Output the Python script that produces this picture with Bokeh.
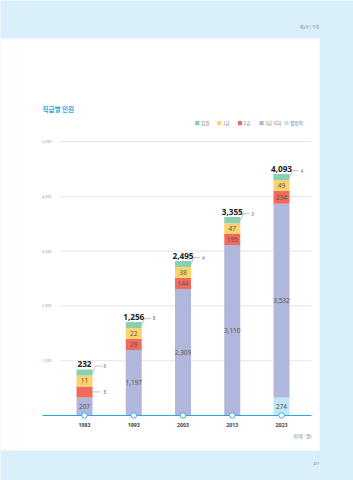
from bokeh.plotting import figure
from bokeh.models import Range1d
from bokeh.core.properties import value
from bokeh.embed import file_html
from bokeh.resources import INLINE

# ---------------- data ----------------
years = ["1983", "1993", "2003", "2013", "2023"]
series_names = ["임원", "1급", "2급", "3급 이하", "별정직"]
executives = [6, 8, 4, 3, 4]            # 임원
grade1 = [11, 22, 38, 47, 49]           # 1급
grade2 = [8, 29, 144, 195, 234]         # 2급
grade3 = [207, 1197, 2309, 3110, 3532]  # 3급 이하
special = [0, 0, 0, 0, 274]             # 별정직
totals = [232, 1256, 2495, 3355, 4093]
y_ticks = [1000, 2000, 3000, 4000, 5000]
y_tick_labels = ["1,000", "2,000", "3,000", "4,000", "5,000"]

# ---------------- styling / geometry ----------------
PAGE_BG = "#d9f0fa"
BLUE = "#29a8e0"
COLORS = {"임원": "#86d1b1", "1급": "#fdd36e", "2급": "#f06b5b",
          "3급 이하": "#b1b6dc", "별정직": "#bfe6f7"}
# minimum visible segment height (in data units) so small groups stay legible
MIN_H = {"임원": 110, "1급": 200, "2급": 200, "3급 이하": 330, "별정직": 330}

PX_PER_UNIT = 0.0548
BASE_PX = 415.0
X0_PX = 84.0
STEP_PX = 49.25
W = 16.0 / STEP_PX

KR = value("Noto Sans CJK KR")
NUM = value("Noto Sans")

p = figure(width=353, height=480, output_backend="svg", toolbar_location=None,
           x_range=Range1d(-X0_PX / STEP_PX, (353 - X0_PX) / STEP_PX),
           y_range=Range1d(-(480 - BASE_PX) / PX_PER_UNIT, BASE_PX / PX_PER_UNIT),
           x_axis_location=None, y_axis_location=None, min_border=0,
           outline_line_color=None, background_fill_color=PAGE_BG,
           border_fill_color=PAGE_BG)
p.grid.visible = False
p.extra_x_ranges = {"px": Range1d(0, 353)}
p.extra_y_ranges = {"px": Range1d(480, 0)}

def dx(px):
    return px / STEP_PX

def dy(px):
    return px / PX_PER_UNIT

# page panel
p.quad(left=[0], right=[319], top=[38], bottom=[450], fill_color="white",
       line_color=None, x_range_name="px", y_range_name="px")
p.text(x=[319], y=[26], text=["제2부 | 부록"], text_font=KR, text_font_size="4px",
       text_color="#888888", text_align="right", text_baseline="middle",
       x_range_name="px", y_range_name="px")
p.text(x=[316], y=[463], text=["451"], text_font=NUM, text_font_size="3.5px",
       text_color="#888888", text_align="center", text_baseline="middle",
       x_range_name="px", y_range_name="px")

# title
p.text(x=[42], y=[108], text=["직급별 인원"], text_font=KR, text_font_size="6.5px",
       text_font_style="bold", text_color="#27a9e1", text_align="left",
       text_baseline="middle", x_range_name="px", y_range_name="px")

# legend
leg_sq = [194.7, 216.7, 237.3, 259.0, 284.0]
p.quad(left=leg_sq, right=[v + 4.2 for v in leg_sq], top=[120.5] * 5, bottom=[124.7] * 5,
       fill_color=[COLORS[n] for n in series_names], line_color=None,
       x_range_name="px", y_range_name="px")
p.text(x=[v + 5.8 for v in leg_sq], y=[122.6] * 5, text=series_names, text_font=KR,
       text_font_size="4.6px", text_color="#777777", text_align="left",
       text_baseline="middle", x_range_name="px", y_range_name="px")

# gridlines and y tick labels
p.segment(x0=[60] * len(y_ticks), x1=[311] * len(y_ticks), y0=y_ticks, y1=y_ticks,
          line_color="#dddddd", line_width=0.8, x_range_name="px")
p.text(x=[51] * len(y_ticks), y=y_ticks, text=y_tick_labels, text_font=NUM,
       text_font_size="3.8px", text_color="#999999", text_align="right",
       text_baseline="middle", x_range_name="px")

# stacked bars
xs = list(range(len(years)))
stack = [("별정직", special), ("3급 이하", grade3), ("2급", grade2),
         ("1급", grade1), ("임원", executives)]
cum = [0.0] * len(years)
in_x, in_y, in_t = [], [], []
lead_xs, lead_ys, co_x, co_y, co_t = [], [], [], [], []
for name, vals in stack:
    bottoms = list(cum)
    tops = [b + (max(v, MIN_H[name]) if v > 0 else 0) for b, v in zip(bottoms, vals)]
    p.quad(left=[x - W / 2 for x in xs], right=[x + W / 2 for x in xs],
           bottom=bottoms, top=tops, fill_color=COLORS[name], line_color=None)
    for x, v, b, t in zip(xs, vals, bottoms, tops):
        if v <= 0:
            continue
        mid = (b + t) / 2
        if v >= 10:
            in_x.append(x); in_y.append(mid); in_t.append(f"{v:,}")
        elif name == "임원":
            x1 = x + W / 2
            lead_xs.append([x1, x1 + dx(3), x1 + dx(9)])
            lead_ys.append([mid, mid + dy(6.5), mid + dy(6.5)])
            co_x.append(x1 + dx(11)); co_y.append(mid + dy(6.5)); co_t.append(str(v))
        else:
            x1 = x + W / 2
            lead_xs.append([x1, x1 + dx(8)])
            lead_ys.append([mid, mid])
            co_x.append(x1 + dx(11)); co_y.append(mid); co_t.append(str(v))
    cum = tops

p.text(x=in_x, y=in_y, text=in_t, text_font=NUM, text_font_size="6.5px",
       text_color="#555555", text_align="center", text_baseline="middle")
p.multi_line(xs=lead_xs, ys=lead_ys, line_color="#9a9a9a", line_width=0.6)
p.text(x=co_x, y=co_y, text=co_t, text_font=NUM, text_font_size="4.6px",
       text_color="#666666", text_align="left", text_baseline="middle")

# totals
p.text(x=xs, y=cum, text=[f"{t:,}" for t in totals], text_font=NUM,
       text_font_size="8.2px", text_font_style="bold", text_color="#222222",
       text_align="center", text_baseline="bottom", y_offset=-2)

# baseline, markers, x labels
p.segment(x0=[42], x1=[311], y0=[0], y1=[0], line_color=BLUE, line_width=1,
          x_range_name="px")
p.scatter(x=xs, y=[0] * len(xs), size=5.5, fill_color="white", line_color=BLUE,
          line_width=0.9)
p.text(x=xs, y=[424] * len(xs), text=years, text_font=NUM, text_font_size="5.2px",
       text_font_style="bold", text_color="#444444", text_align="center",
       text_baseline="middle", y_range_name="px")
p.text(x=[311], y=[435], text=["(단위 : 명)"], text_font=KR, text_font_size="4.4px",
       text_color="#777777", text_align="right", text_baseline="middle",
       x_range_name="px", y_range_name="px")

open("out.html", "w").write(file_html(p, INLINE))
